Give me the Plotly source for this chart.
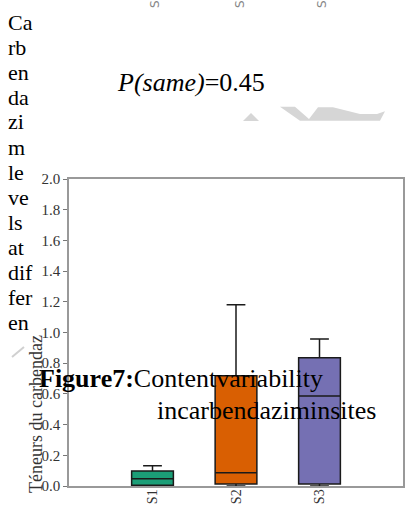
import plotly.graph_objects as go

# ---- data ----
categories = ["S1", "S2", "S3"]
q1 = [0.005, 0.013, 0.013]
medians = [0.048, 0.087, 0.586]
q3 = [0.098, 0.718, 0.836]
lower_fence = [0.0, 0.0, 0.0]
upper_fence = [0.132, 1.18, 0.958]
box_colors = ["#1b9e77", "#d95f02", "#7570b3"]
y_ticks = [0.0, 0.2, 0.4, 0.6, 0.8, 1.0, 1.2, 1.4, 1.6, 1.8, 2.0]
y_title = "Téneurs du carbendaz"
side_words = ["Ca", "rb", "en", "da", "zi", "m", "le", "ve", "ls", "at", "dif", "fer", "en"]

W, H = 405, 506
L, R, T, B = 69, 2, 179, 20
PW, PH = W - L - R, H - T - B


def px(x):
    return (x - L) / PW


def py(y):
    return (H - B - y) / PH


fig = go.Figure()
for i, c in enumerate(categories):
    fig.add_trace(go.Box(
        x=[c], q1=[q1[i]], median=[medians[i]], q3=[q3[i]],
        lowerfence=[lower_fence[i]], upperfence=[upper_fence[i]],
        fillcolor=box_colors[i], line=dict(color="#1a1a1a", width=1.5),
        width=0.5, whiskerwidth=0.45, showlegend=False, boxpoints=False,
        hoverinfo="skip",
    ))

serif = "Liberation Serif, Times New Roman, serif"
ann = []
for k, w in enumerate(side_words):
    ann.append(dict(x=px(6), y=py(22 + 25 * k), text=w, xanchor="left", yanchor="middle",
                    font=dict(family=serif, size=22, color="#000")))
ann.append(dict(x=px(115), y=py(82), text="<i>P(same)</i>=0.45", xanchor="left", yanchor="middle",
                font=dict(family=serif, size=26, color="#000")))
ann.append(dict(x=px(37), y=py(378), text="<b>Figure7:</b>Contentvariability", xanchor="left",
                yanchor="middle", font=dict(family=serif, size=26, color="#000")))
ann.append(dict(x=px(155), y=py(410), text="incarbendaziminsites", xanchor="left",
                yanchor="middle", font=dict(family=serif, size=26, color="#000")))
ann.append(dict(x=px(36), y=py(414), text=y_title, textangle=-90, xanchor="center",
                yanchor="middle", font=dict(family=serif, size=18, color="#333")))
for c, xx in zip(categories, [155, 240, 322]):
    ann.append(dict(x=px(xx), y=py(1), text=c, textangle=-90, xanchor="center", yanchor="middle",
                    font=dict(family="DejaVu Sans", size=12, color="#888")))
for a in ann:
    a.update(xref="paper", yref="paper", showarrow=False)


def path(points):
    return "M " + " L ".join(f"{px(x):.4f},{py(y):.4f}" for x, y in points) + " Z"


shapes = [
    dict(type="path", xref="paper", yref="paper",
         path=path([(243, 121), (251, 113), (259, 121)]),
         fillcolor="#d6d6d6", line=dict(width=0)),
    dict(type="path", xref="paper", yref="paper",
         path=path([(280, 106.7), (295, 106.7), (309, 119), (318, 107.3), (333, 107.3),
                    (360, 114), (377, 114), (385, 111.3), (380, 120.7), (300, 120.7)]),
         fillcolor="#d6d6d6", line=dict(width=0)),
    dict(type="line", xref="paper", yref="paper", x0=px(12), y0=py(357), x1=px(24), y1=py(347),
         line=dict(color="#d0d0d0", width=2)),
]

fig.update_layout(
    width=W, height=H, margin=dict(l=L, r=R, t=T, b=B),
    paper_bgcolor="white", plot_bgcolor="white",
    annotations=ann, shapes=shapes, showlegend=False, hovermode=False,
)
fig.update_xaxes(range=[-1, 3], showgrid=False, zeroline=False, showline=True, mirror=True,
                 linecolor="#999", linewidth=1.5, ticks="", tickangle=-90, automargin=False,
                 ticklabelstandoff=-4,
                 tickfont=dict(family=serif, size=14, color="#333"))
fig.update_yaxes(range=[0, 2.0], tickvals=y_ticks, ticktext=[f"{v:.1f}" for v in y_ticks],
                 showgrid=False, zeroline=False, showline=True, mirror=True,
                 linecolor="#999", linewidth=1.5, ticks="outside", ticklen=4, tickcolor="#777",
                 automargin=False, tickfont=dict(family=serif, size=15, color="#333"))

fig.write_html("out.html", config={"displayModeBar": False},
               post_script="document.body.style.margin='0';document.body.style.overflow='hidden';")
